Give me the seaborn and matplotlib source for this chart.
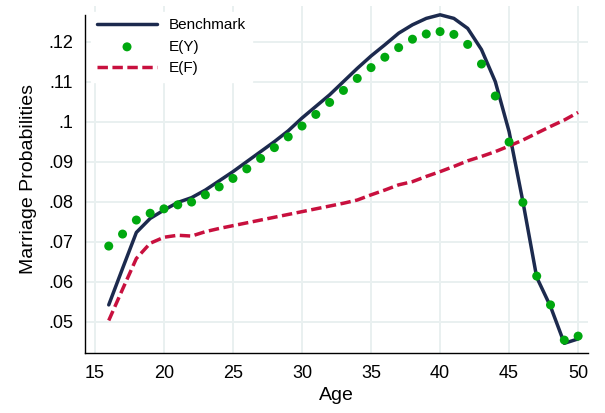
import numpy as np
import pandas as pd
import matplotlib
matplotlib.use('Agg')
import matplotlib.pyplot as plt
import seaborn as sns

# ---- data ----
age = list(range(16, 51))

benchmark = [0.0542, 0.0633, 0.0723, 0.0758, 0.0779, 0.0798, 0.0810, 0.0829, 0.0852,
             0.0875, 0.0900, 0.0925, 0.0950, 0.0977, 0.1009, 0.1038, 0.1067, 0.1100,
             0.1133, 0.1164, 0.1192, 0.1221, 0.1242, 0.1258, 0.1267, 0.1258, 0.1233,
             0.1180, 0.1100, 0.0975, 0.0800, 0.0611, 0.0538, 0.0446, 0.0457]

e_y = [0.0689, 0.0719, 0.0754, 0.0771, 0.0782, 0.0792, 0.0799, 0.0817, 0.0837,
       0.0858, 0.0882, 0.0908, 0.0935, 0.0962, 0.0989, 0.1018, 0.1048, 0.1078,
       0.1108, 0.1135, 0.1161, 0.1185, 0.1206, 0.1219, 0.1225, 0.1218, 0.1193,
       0.1144, 0.1064, 0.0949, 0.0798, 0.0614, 0.0542, 0.0454, 0.0464]

e_f = [0.0503, 0.0581, 0.0658, 0.0696, 0.0711, 0.0716, 0.0714, 0.0725, 0.0733,
       0.0740, 0.0747, 0.0754, 0.0761, 0.0768, 0.0775, 0.0782, 0.0789, 0.0796,
       0.0804, 0.0817, 0.0829, 0.0842, 0.0850, 0.0863, 0.0875, 0.0888, 0.0902,
       0.0913, 0.0925, 0.0939, 0.0954, 0.0971, 0.0988, 0.1004, 0.1023]

x_ticks = [15, 20, 25, 30, 35, 40, 45, 50]
y_ticks = [0.05, 0.06, 0.07, 0.08, 0.09, 0.10, 0.11, 0.12]
y_labels = [".05", ".06", ".07", ".08", ".09", ".1", ".11", ".12"]

df = pd.DataFrame({"Age": age, "Benchmark": benchmark, "E(Y)": e_y, "E(F)": e_f})

# ---- style ----
sns.set_style("white")
plt.rcParams['font.family'] = ['Liberation Sans', 'DejaVu Sans']

NAVY = "#1c2a4e"
GREEN = "#00a80f"
RED = "#c8103e"
GRID = "#e9f0f0"

fig = plt.figure(figsize=(6.05, 4.13), dpi=100)
ax = fig.add_axes([0.1405, 0.146, 0.8315, 0.8395])

sns.lineplot(data=df, x="Age", y="Benchmark", color=NAVY, lw=2.5,
             label="Benchmark", ax=ax, zorder=3)
sns.scatterplot(data=df, x="Age", y="E(Y)", color=GREEN, s=42,
                edgecolor="none", label="E(Y)", ax=ax, zorder=4)
sns.lineplot(data=df, x="Age", y="E(F)", color=RED, lw=2.5,
             label="E(F)", ax=ax, zorder=3)
ax.lines[-1].set_dashes([3.0, 1.3])

ax.set_xlim(14.28, 50.72)
ax.set_ylim(0.04225, 0.1289)
ax.set_xticks(x_ticks)
ax.set_xticks([17.5, 22.5, 27.5, 32.5, 37.5, 42.5, 47.5], minor=True)
ax.set_yticks(y_ticks)
ax.set_yticklabels(y_labels)

ax.grid(True, which="major", color=GRID, lw=1.4)
ax.set_axisbelow(True)
for s in ["top", "right"]:
    ax.spines[s].set_visible(False)
for s in ["left", "bottom"]:
    ax.spines[s].set_color("black")
    ax.spines[s].set_linewidth(1.0)
ax.spines["left"].set_bounds(0.04225, 0.1267)

ax.tick_params(axis="both", which="major", direction="out", length=5,
               width=1, labelsize=13, colors="black")
ax.tick_params(axis="x", which="minor", direction="out", length=3, width=1)

ax.set_xlabel("Age", fontsize=14, labelpad=4, color="black")
ax.set_ylabel("Marriage Probabilities", fontsize=14, labelpad=8, color="black")

leg = ax.legend(loc="upper left", frameon=True, fontsize=11,
                handlelength=3.9, borderaxespad=0.4, labelspacing=0.5,
                handletextpad=0.8, fancybox=False)
leg.get_frame().set_facecolor("white")
leg.get_frame().set_edgecolor("white")
leg.get_frame().set_alpha(1)
for t in leg.get_texts():
    t.set_color("black")

fig.savefig("out.png", dpi=100)
